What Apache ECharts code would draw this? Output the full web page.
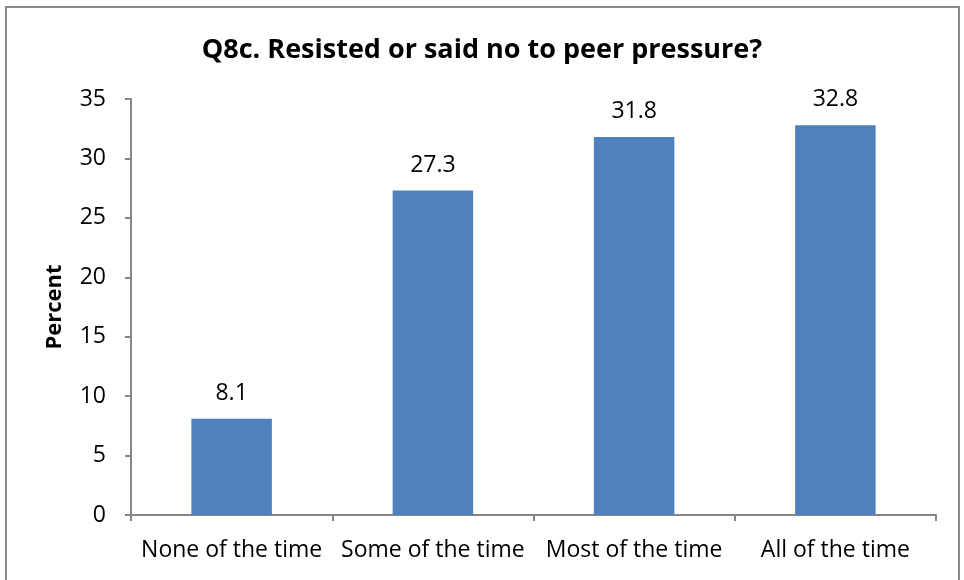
<!DOCTYPE html>
<html>
<head>
<meta charset="utf-8">
<script src="https://cdn.jsdelivr.net/npm/echarts@6/dist/echarts.min.js"></script>
<style>
  html, body { margin: 0; padding: 0; background: #fff; }
  #chart { width: 964px; height: 580px; }
  .frame { position: absolute; left: 5px; top: 6px; width: 955px; height: 580px; border: 2px solid #898989; box-sizing: border-box; pointer-events: none; }
</style>
</head>
<body>
<div id="chart"></div>
<div class="frame"></div>
<script>
const categories = ['None of the time', 'Some of the time', 'Most of the time', 'All of the time']
const percents = [8.1, 27.3, 31.8, 32.8]
const yTicks = { min: 0, max: 35, interval: 5 }

const font = '"Open Sans", sans-serif'
const chart = echarts.init(document.getElementById('chart'))

chart.setOption({
  animation: false,
  title: {
    text: 'Q8c. Resisted or said no to peer pressure?',
    left: 'center',
    top: 32,
    textStyle: { fontFamily: font, fontSize: 27, fontWeight: 'bold', color: '#000' }
  },
  grid: { left: 131, right: 28, top: 99, bottom: 65 },
  xAxis: {
    type: 'category',
    data: categories,
    axisLine: { lineStyle: { color: '#868686', width: 2 } },
    axisTick: { show: true, length: 6, lineStyle: { color: '#868686', width: 2 } },
    axisLabel: { fontFamily: font, fontSize: 23, color: '#000', margin: 24, interval: 0 }
  },
  yAxis: {
    type: 'value',
    min: yTicks.min,
    max: yTicks.max,
    interval: yTicks.interval,
    name: 'Percent',
    nameLocation: 'middle',
    nameGap: 65,
    nameTextStyle: { fontFamily: font, fontSize: 22, fontWeight: 'bold', color: '#000' },
    axisLine: { show: true, lineStyle: { color: '#868686', width: 2 } },
    axisTick: { show: true, length: 6, lineStyle: { color: '#868686', width: 2 } },
    axisLabel: { fontFamily: font, fontSize: 23, color: '#000', margin: 25 },
    splitLine: { show: false }
  },
  series: [{
    type: 'bar',
    data: percents,
    barWidth: '40%',
    itemStyle: { color: '#4F81BD' },
    label: {
      show: true,
      position: 'top',
      distance: 14,
      fontFamily: font,
      fontSize: 23,
      color: '#000'
    }
  }]
})
</script>
</body>
</html>
